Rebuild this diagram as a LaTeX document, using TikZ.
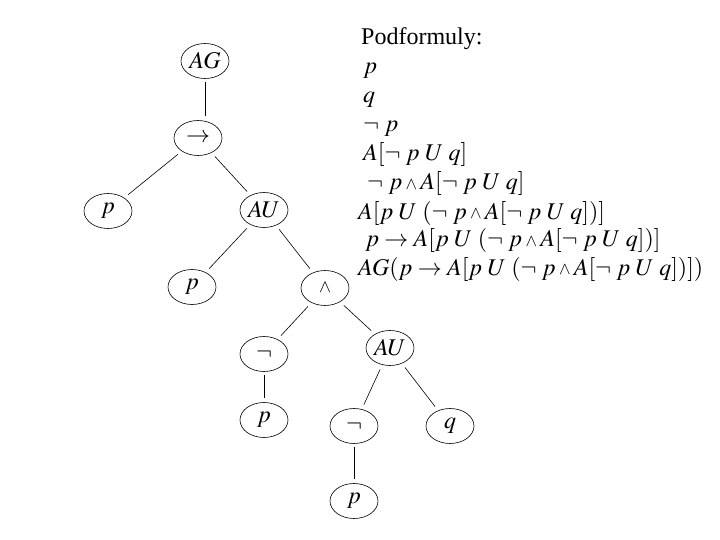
\documentclass[tikz,border=0pt]{standalone}
\usepackage{mathptmx}
\usepackage[no-math]{fontspec}
\setmainfont{Liberation Serif}
\usepackage{graphicx}
\usetikzlibrary{shapes.geometric}
\newcommand{\swedge}{\mathbin{\raisebox{0.02em}{\scalebox{0.72}{$\wedge$}}}}
\newcommand{\nt}{\neg\;}
\tikzset{
  tnode/.style={draw, ellipse, line width=0.6pt, minimum width=48pt, minimum height=35pt, inner sep=0pt, font=\fontsize{24}{28}\selectfont},
  edge/.style={draw, line width=0.6pt, shorten <=5pt, shorten >=5pt},
  vedge/.style={draw, line width=0.6pt, shorten <=3pt, shorten >=4pt},
  txt/.style={anchor=base west, inner sep=0pt, font=\fontsize{24}{28}\selectfont}
}
\begin{document}
\begin{tikzpicture}[x=1pt,y=-1pt]
\useasboundingbox (0,0) rectangle (720,540);
% tree
\node[tnode] (AG) at (205,61) {$AG$};
\node[tnode] (imp) at (198,138) {$\rightarrow$};
\node[tnode] (p1) at (108,211) {$p$};
\node[tnode] (AU1) at (264,210) {$AU$};
\node[tnode] (p2) at (192,287) {$p$};
\node[tnode] (and) at (325,288) {\raisebox{-0.15em}{$\scalebox{0.75}{$\wedge$}$}};
\node[tnode] (neg1) at (264,354) {$\neg$};
\node[tnode] (AU2) at (390,348) {$AU$};
\node[tnode] (p3) at (264,420) {$p$};
\node[tnode] (neg2) at (354,426) {$\neg$};
\node[tnode] (q1) at (450,426) {$q$};
\node[tnode] (p4) at (354,501) {$p$};
% edges
\draw[vedge] (AG.south) -- (AG.south |- imp.north);
\draw[edge] (imp) -- (p1);
\draw[edge] (imp) -- (AU1);
\draw[edge] (AU1) -- (p2);
\draw[edge] (AU1) -- (and);
\draw[edge] (and) -- (neg1);
\draw[edge] (and) -- (AU2);
\draw[vedge] (neg1) -- (p3);
\draw[edge] (AU2) -- (neg2);
\draw[edge] (AU2) -- (q1);
\draw[vedge] (neg2) -- (p4);
% list
\node[txt] (t0) at (361,45) {Podformuly:};
\node[txt] (t1) at (363,74) {$p$};
\node[txt] (t2) at (363,103) {$q$};
\node[txt] (t3) at (363,132) {$\nt p$};
\node[txt] (t4) at (363,161) {$A[\nt p\;U\;q]$};
\node[txt] (t5) at (367,190) {$\nt p\swedge A[\nt p\;U\;q]$};
\node[txt] (t6) at (358,219) {$A[p\;U\;(\nt p\swedge A[\nt p\;U\;q])]$};
\node[txt] (t7) at (365,247) {$p\rightarrow A[p\;U\;(\nt p\swedge A[\nt p\;U\;q])]$};
\node[txt] (t8) at (358,275) {$AG(p\rightarrow A[p\;U\;(\nt p\swedge A[\nt p\;U\;q])])$};
\end{tikzpicture}
\end{document}
